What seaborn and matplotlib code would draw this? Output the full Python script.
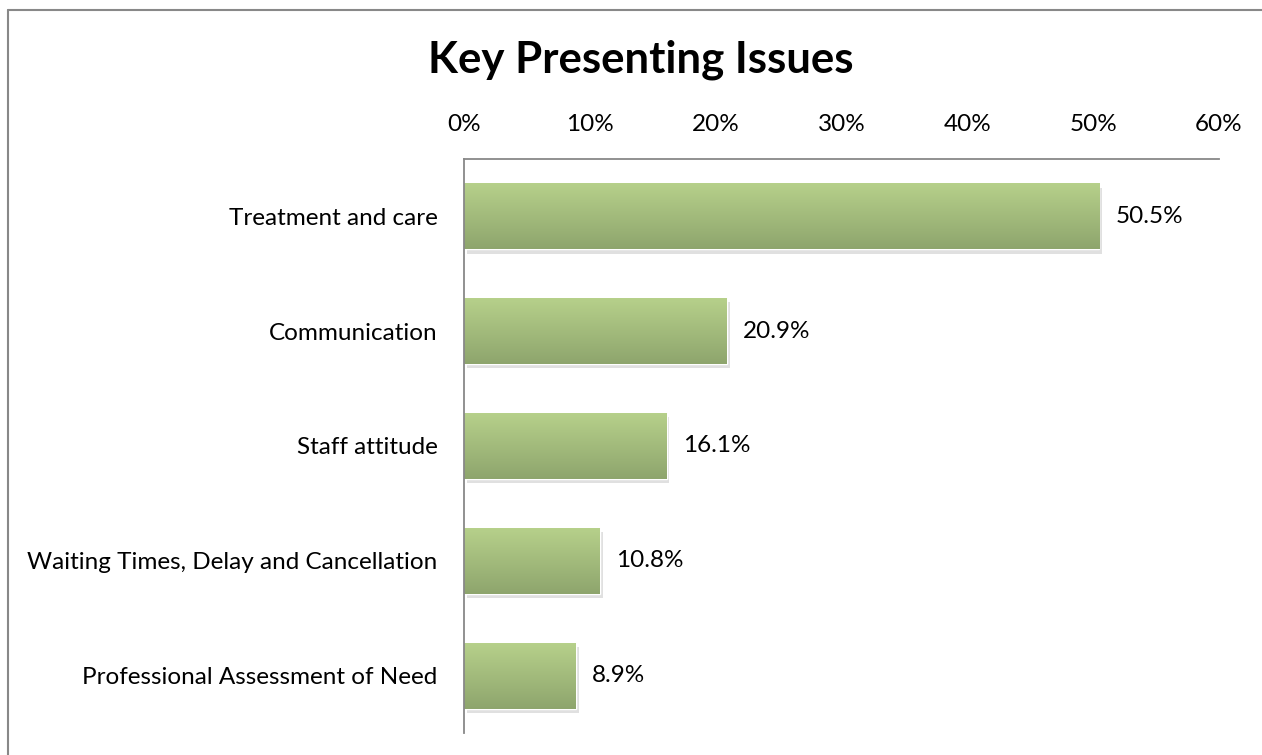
import matplotlib
matplotlib.use("Agg")
import matplotlib.pyplot as plt
import seaborn as sns
import numpy as np
import pandas as pd
from matplotlib.colors import LinearSegmentedColormap
from matplotlib.lines import Line2D
import matplotlib.patheffects as pe

categories = ["Treatment and care", "Communication", "Staff attitude",
              "Waiting Times, Delay and Cancellation", "Professional Assessment of Need"]
values = [50.5, 20.9, 16.1, 10.8, 8.9]
tick_values = [0, 10, 20, 30, 40, 50, 60]
tick_labels = ["0%", "10%", "20%", "30%", "40%", "50%", "60%"]
title = "Key Presenting Issues"

sns.set_theme(style="white")
plt.rcParams['font.family'] = ['Lato', 'DejaVu Sans']

df = pd.DataFrame({"cat": categories, "val": values})

fig = plt.figure(figsize=(12.62, 7.55), dpi=100)
ax = fig.add_axes([464/1262, 1 - 733/755, (1219-464)/1262, (733-159)/755])

sns.barplot(data=df, x="val", y="cat", orient="h", color="#a4bf7c", width=0.575,
            ax=ax, saturation=1)

cmap = LinearSegmentedColormap.from_list("g", ["#b7d18b", "#8ea56d"])
grad = np.linspace(0, 1, 256).reshape(-1, 1)
for p in ax.patches:
    x0, y0 = p.get_x(), p.get_y()
    w, h = p.get_width(), p.get_height()
    p.set_path_effects([pe.SimplePatchShadow(offset=(2, -3), shadow_rgbFace="#999999", alpha=0.3),
                        pe.Normal()])
    im = ax.imshow(grad, cmap=cmap, aspect="auto", extent=(x0, x0 + w, y0 + h, y0),
                   zorder=p.get_zorder() + 0.1, interpolation="bicubic")
    im.set_clip_path(p)

fs = 17.5
ax.set_xlim(0, 60)
ax.set_ylim(len(categories) - 0.5, -0.5)
ax.set_xticks(tick_values)
ax.set_xticklabels(tick_labels)
ax.xaxis.tick_top()
ax.tick_params(axis="x", length=0, labelsize=fs, pad=17, colors="#000000")
ax.tick_params(axis="y", length=0, labelsize=fs, pad=19, colors="#000000")
ax.set_xlabel("")
ax.set_ylabel("")
for s in ["right", "bottom"]:
    ax.spines[s].set_visible(False)
for s in ["top", "left"]:
    ax.spines[s].set_color("#888888")
    ax.spines[s].set_linewidth(1.3)

for i, v in enumerate(values):
    ax.text(v + 1.3, i, f"{v:.1f}%", va="center", ha="left", fontsize=fs, color="#000000")

fig.text(641/1262, 1 - 60/755, title, ha="center", va="center", fontsize=31.5,
         fontweight="bold", color="#000000")

fig.add_artist(Line2D([8/1262, 8/1262], [0, 1 - 10/755], transform=fig.transFigure,
                      color="#888888", linewidth=1.5))
fig.add_artist(Line2D([8/1262, 1.01], [1 - 10/755, 1 - 10/755], transform=fig.transFigure,
                      color="#888888", linewidth=1.5))

fig.savefig("out.png", dpi=100, facecolor="white")
